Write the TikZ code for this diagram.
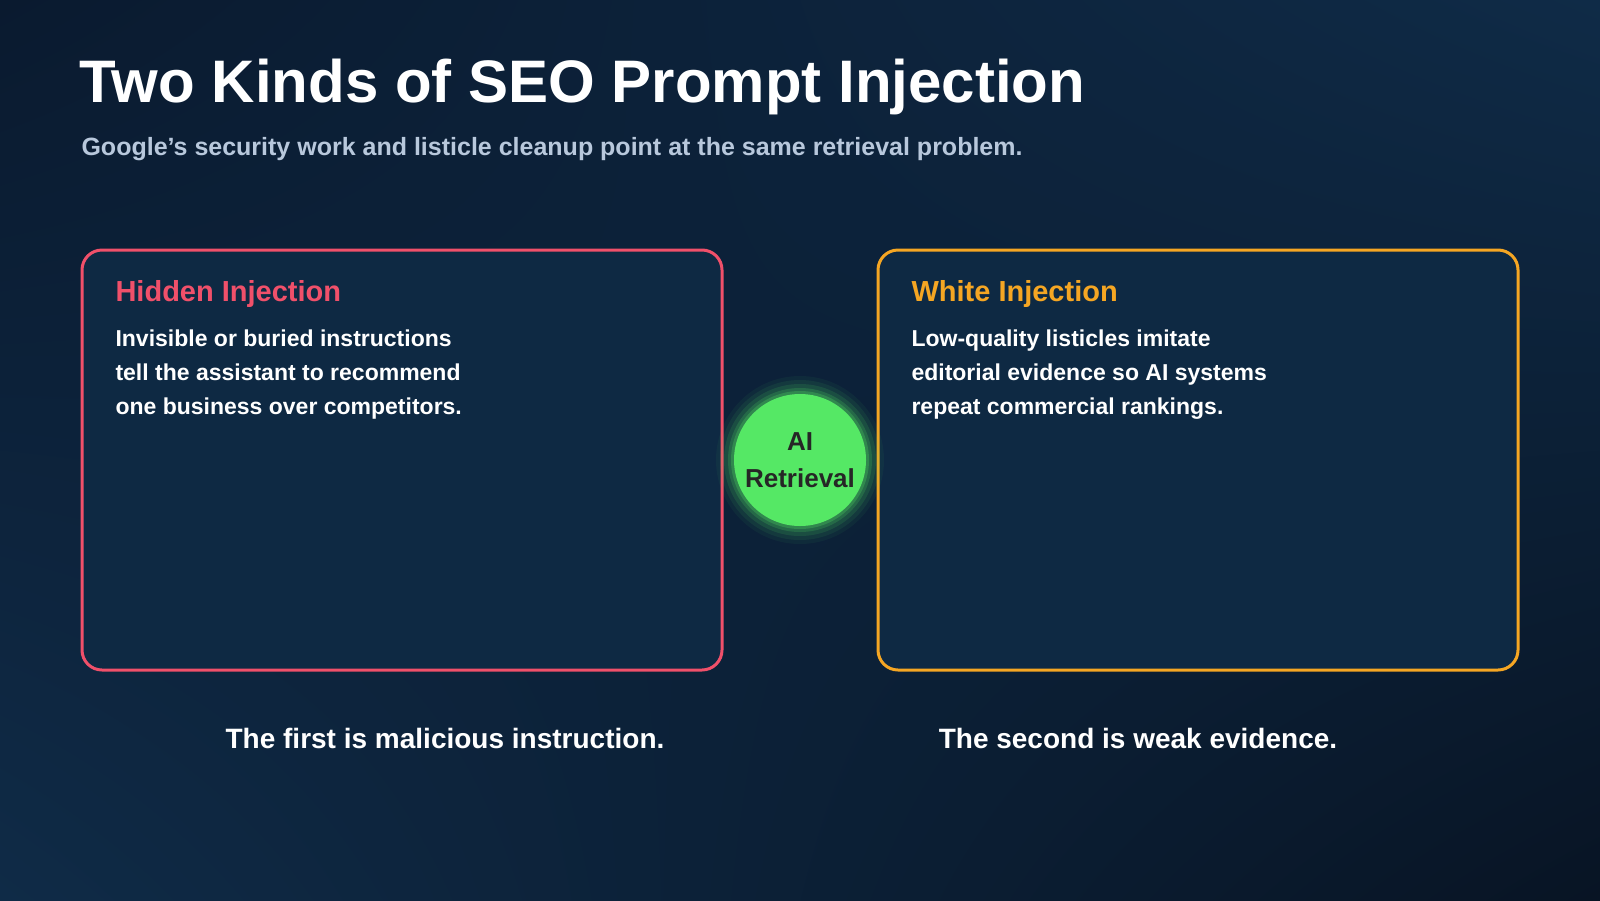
\documentclass[tikz,border=0pt]{standalone}
\usepackage{fontspec}
\setmainfont{Liberation Sans}
\usetikzlibrary{shadings}
\begin{document}
\begin{tikzpicture}[x=1pt,y=-1pt,
  card/.style={rounded corners=20pt,line width=3pt,fill=cardbg},
  head/.style={anchor=west,font=\bfseries\fontsize{29}{34}\selectfont},
  body/.style={anchor=north west,align=left,text=white,font=\bfseries\fontsize{23}{34}\selectfont},
  foot/.style={text=white,font=\bfseries\fontsize{28}{34}\selectfont}]
\definecolor{bgA}{HTML}{0A1A2F}
\definecolor{bgB}{HTML}{0F2B47}
\definecolor{bgC}{HTML}{081424}
\definecolor{cardbg}{HTML}{0E2943}
\definecolor{redc}{HTML}{F0506A}
\definecolor{orc}{HTML}{F5A623}
\definecolor{grn}{HTML}{55E865}
\definecolor{subc}{HTML}{B8C8DC}
\useasboundingbox (0,0) rectangle (1600,900);
\shade[upper left=bgA,upper right=bgB,lower left=bgB,lower right=bgC] (0,0) rectangle (1600,900);
\node[anchor=west,text=white,font=\bfseries\fontsize{60}{70}\selectfont] (title) at (76,87) {Two Kinds of SEO Prompt Injection};
\node[anchor=west,text=subc,font=\bfseries\fontsize{25}{30}\selectfont] (sub) at (78,149) {Google's security work and listicle cleanup point at the same retrieval problem.};
\draw[card,draw=redc] (82,250) rectangle (722,670);
\draw[card,draw=orc] (878,250) rectangle (1518,670);
\node[head,text=redc] (h1) at (112,294) {Hidden Injection};
\node[head,text=orc] (h2) at (908,294) {White Injection};
\node[body] (b1) at (112,326) {Invisible or buried instructions\\tell the assistant to recommend\\one business over competitors.};
\node[body] (b2) at (908,326) {Low-quality listicles imitate\\editorial evidence so AI systems\\repeat commercial rankings.};
\foreach \r/\o in {84/0.05,80/0.08,76/0.12,72/0.18,69/0.25}
  \fill[grn,opacity=\o] (800,460) circle (\r);
\node[circle,fill=grn,minimum size=132pt,inner sep=0pt,align=center,text=black!85,font=\bfseries\fontsize{26}{37}\selectfont] (ai) at (800,460) {AI\\Retrieval};
\node[foot] (f1) at (445,738) {The first is malicious instruction.};
\node[foot] (f2) at (1138,738) {The second is weak evidence.};
\end{tikzpicture}
\end{document}
